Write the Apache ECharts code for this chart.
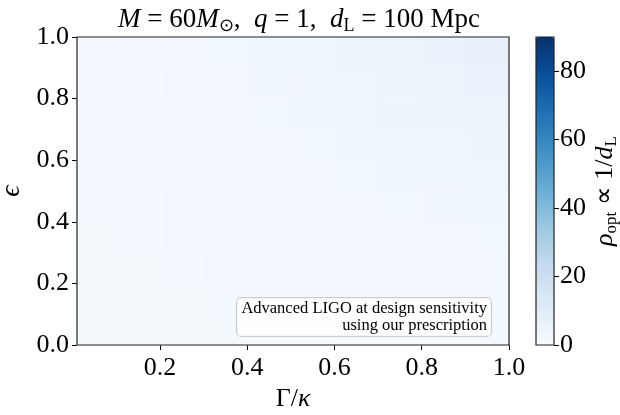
<!DOCTYPE html>
<html>
<head>
<meta charset="utf-8">
<script src="https://cdn.jsdelivr.net/npm/echarts@6/dist/echarts.min.js"></script>
<style>html,body{margin:0;padding:0;background:#fff}#c{width:620px;height:415px}</style>
</head>
<body>
<div id="c"></div>
<script>
// x categories: Gamma/kappa cell centres (range 0.01 .. 1.0)
var gammaCells = ['0.06','0.16','0.26','0.36','0.46','0.55','0.65','0.75','0.85','0.95'];
// y categories: epsilon cell centres
var epsCells = ['0.05','0.15','0.25','0.35','0.45','0.55','0.65','0.75','0.85','0.95'];
// rho_opt values, one row per epsilon (bottom to top), columns along Gamma/kappa
var rhoRows = [
  [1.2,1.3,1.4,1.5,1.6,1.7,1.8,1.9,2.0,2.1],
  [1.3,1.4,1.5,1.6,1.8,1.9,2.0,2.2,2.3,2.4],
  [1.4,1.5,1.6,1.8,1.9,2.1,2.3,2.4,2.6,2.7],
  [1.5,1.6,1.8,1.9,2.1,2.3,2.5,2.7,2.9,3.1],
  [1.6,1.7,1.9,2.1,2.3,2.5,2.8,3.0,3.3,3.5],
  [1.7,1.9,2.0,2.3,2.5,2.8,3.1,3.4,3.7,4.0],
  [1.8,2.0,2.2,2.5,2.8,3.1,3.4,3.8,4.2,4.6],
  [2.0,2.2,2.4,2.7,3.0,3.4,3.8,4.3,4.8,5.3],
  [2.1,2.3,2.6,2.9,3.3,3.7,4.2,4.8,5.4,6.0],
  [2.3,2.5,2.8,3.1,3.5,4.0,4.6,5.3,6.0,6.8]
];
var xTicks = [0.2,0.4,0.6,0.8,1.0];
var yTicks = [0.0,0.2,0.4,0.6,0.8,1.0];
var cbarTicks = [0,20,40,60,80];
var cbarMin = 0, cbarMax = 90;
var blues = ['#f7fbff','#deebf7','#c6dbef','#9ecae1','#6baed6','#4292c6','#2171b5','#08519c','#08306b'];

var heat = [];
rhoRows.forEach(function(row, j){ row.forEach(function(v, i){ heat.push([i, j, v]); }); });

var FONT = 'Liberation Serif';
var chart = echarts.init(document.getElementById('c'), null, {renderer:'canvas'});
chart.setOption({
  animation:false,
  backgroundColor:'#fff',
  title:{
    text:'{i|M} = 60{i|M}{s|⊙},  {i|q} = 1,  {i|d}{s|L} = 100 Mpc',
    left:294, textAlign:'center', top:0,
    textStyle:{fontFamily:FONT, fontSize:27, fontWeight:'normal', color:'#000',
      rich:{i:{fontFamily:FONT, fontSize:27, fontStyle:'italic'},
            s:{fontFamily:FONT, fontSize:18, padding:[12,0,0,0]}}}
  },
  grid:[
    {left:77, top:37, width:432, height:308, show:true, borderColor:'#222', borderWidth:1.2, backgroundColor:'transparent', z:10, outerBoundsMode:'none', containLabel:false},
    {left:536, top:37, width:18, height:308, show:true, borderColor:'#222', borderWidth:1.2, backgroundColor:'transparent', z:10, outerBoundsMode:'none', containLabel:false}
  ],
  xAxis:[
    {type:'value', gridIndex:0, min:0.01, max:1.0, position:'bottom',
     name:'{n|Γ}/{i|κ}', nameLocation:'middle', nameGap:40,
     nameTextStyle:{fontFamily:FONT, fontSize:26, color:'#000',
       rich:{n:{fontFamily:FONT, fontSize:26}, i:{fontFamily:FONT, fontSize:26, fontStyle:'italic'}}},
     axisLine:{show:false}, splitLine:{show:false},
     axisTick:{show:true, inside:false, length:5, lineStyle:{color:'#000'}, customValues:xTicks},
     axisLabel:{show:true, margin:10, customValues:xTicks, formatter:function(v){return v.toFixed(1);}, fontFamily:FONT, fontSize:26, color:'#000'}},
    {type:'category', gridIndex:0, data:gammaCells, show:false, boundaryGap:true},
    {type:'category', gridIndex:1, data:['c'], show:false}
  ],
  yAxis:[
    {type:'value', gridIndex:0, min:0, max:1.0, interval:0.2,
     name:'ϵ', nameLocation:'middle', nameGap:44, nameRotate:90,
     nameTextStyle:{fontFamily:FONT, fontSize:28, color:'#000', fontStyle:'italic'},
     axisLine:{show:false}, splitLine:{show:false},
     axisTick:{show:true, inside:false, length:5, lineStyle:{color:'#000'}},
     axisLabel:{margin:8, formatter:function(v){return v.toFixed(1);}, fontFamily:FONT, fontSize:26, color:'#000'}},
    {type:'category', gridIndex:0, data:epsCells, show:false, boundaryGap:true},
    {type:'value', gridIndex:1, min:cbarMin, max:cbarMax, position:'right',
     name:'{r|ρ}{s|opt} ∝ 1/{r|d}{s|L}', nameLocation:'middle', nameGap:37, nameRotate:90,
     nameTextStyle:{fontFamily:FONT, fontSize:26, color:'#000',
       rich:{r:{fontFamily:FONT, fontSize:26, fontStyle:'italic'}, s:{fontFamily:FONT, fontSize:17, padding:[12,0,0,0]}}},
     axisLine:{show:false}, splitLine:{show:false},
     axisTick:{show:true, length:5, lineStyle:{color:'#000'}, customValues:cbarTicks},
     axisLabel:{margin:6, customValues:cbarTicks, fontFamily:FONT, fontSize:26, color:'#000'}}
  ],
  visualMap:{
    type:'continuous', min:cbarMin, max:cbarMax, seriesIndex:0,
    orient:'vertical', left:536, top:37, itemWidth:18, itemHeight:308,
    padding:0, calculable:false, text:null, show:true, hoverLink:false,
    inRange:{color:blues}
  },
  series:[
    {type:'heatmap', xAxisIndex:1, yAxisIndex:1, data:heat, progressive:0}
  ],
  graphic:[
    {type:'text', right:128, top:297, z:20,
     style:{text:'{a|Advanced LIGO at design sensitivity}\n{a|using our prescription}',
       rich:{a:{align:'right', width:246, fontFamily:FONT, fontSize:16.5, lineHeight:17, fill:'#000'}},
       font:'16.5px "Liberation Serif"', fill:'#000',
       backgroundColor:'rgba(255,255,255,0.8)', borderColor:'#ccc', borderWidth:1, borderRadius:4, padding:[2,4,2,4]}}
  ]
});
</script>
</body>
</html>
